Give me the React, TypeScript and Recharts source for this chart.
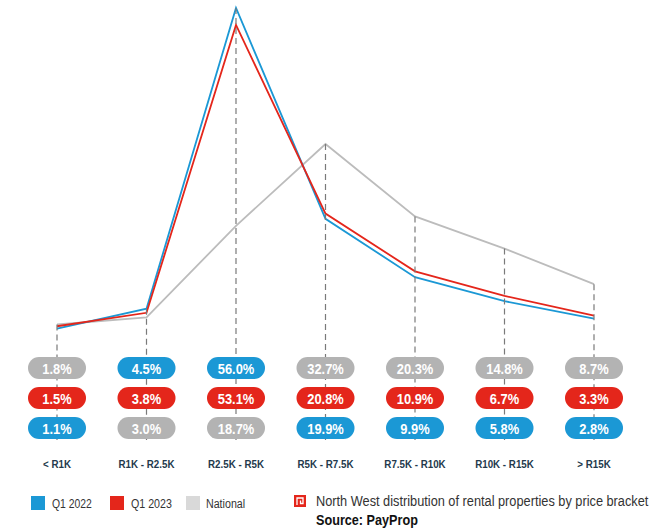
import React from "react";
import { LineChart, Line, XAxis, YAxis } from "recharts";

const categories = ["< R1K", "R1K - R2.5K", "R2.5K - R5K", "R5K - R7.5K", "R7.5K - R10K", "R10K - R15K", "> R15K"];
const q12022 = [1.1, 4.5, 56.0, 19.9, 9.9, 5.8, 2.8];
const q12023 = [1.5, 3.8, 53.1, 20.8, 10.9, 6.7, 3.3];
const national = [1.8, 3.0, 18.7, 32.7, 20.3, 14.8, 8.7];

const BLUE = "#1b98d5";
const RED = "#e4261b";
const GRAY_LINE = "#bcbcbc";
const GRAY_PILL = "#b3b3b3";
const FONT = "'Liberation Sans', Arial, sans-serif";

const data = categories.map((c, i) => ({
  name: c,
  q22: q12022[i],
  q23: q12023[i],
  nat: national[i],
  top: Math.max(q12022[i], q12023[i], national[i]),
}));

const seriesArr: Record<string, number[]> = { q22: q12022, q23: q12023, nat: national };

// condensed look: squeeze the text horizontally
function NarrowText({ x, y, sx, anchor = "middle", children, ...rest }: any) {
  return (
    <text transform={`translate(${x},${y}) scale(${sx},1)`} x={0} y={0} textAnchor={anchor} fontFamily={FONT} {...rest}>
      {children}
    </text>
  );
}

function pillRenderer(key: string, color: string) {
  return (props: any) => {
    const values = seriesArr[key];
    let idx = props.index;
    if (idx === undefined) idx = values.indexOf(props.value);
    const col = [q12022[idx], q12023[idx], national[idx]];
    const mine = values[idx];
    const sorted = [...col].sort((a, b) => b - a);
    const row = sorted.indexOf(mine);
    const cy = 368 + row * 30;
    const w = 58;
    const h = 22;
    return (
      <g key={`pill-${key}-${idx}`}>
        <rect x={props.x - w / 2} y={cy - h / 2} width={w} height={h} rx={11} ry={11} fill={color} />
        <NarrowText x={props.x} y={cy + 5.5} sx={0.86} fill="#fff" fontWeight="bold" fontSize={15}>
          {mine.toFixed(1)}%
        </NarrowText>
      </g>
    );
  };
}

const dropLine = (props: any) => (
  <line
    key={`drop-${props.index}-${props.x}`}
    x1={props.x}
    x2={props.x}
    y1={props.y}
    y2={440}
    stroke="#7a7a7a"
    strokeWidth={1.2}
    strokeDasharray="6 4"
  />
);

const CategoryTick = (props: any) => (
  <NarrowText x={props.x} y={468} sx={0.85} fill="#23394c" fontWeight="bold" fontSize={11.5}>
    {props.payload.value}
  </NarrowText>
);

const legendItems = [
  { label: "Q1 2022", color: BLUE, left: 31, textLeft: 52, sx: 0.77 },
  { label: "Q1 2023", color: RED, left: 110, textLeft: 131, sx: 0.79 },
  { label: "National", color: "#d9d9d9", left: 186, textLeft: 206, sx: 0.79 },
];

export default function App() {
  return (
    <div style={{ position: "absolute", left: 0, top: 0, width: 671, height: 530, background: "#fff" }}>
      <LineChart width={671} height={530} data={data} margin={{ top: 8, right: 77, left: 57, bottom: 165 }}>
        <XAxis dataKey="name" height={30} axisLine={false} tickLine={false} tick={CategoryTick} interval={0} />
        <YAxis hide domain={[0, 56]} />
        <Line dataKey="top" stroke="none" dot={false} activeDot={false} isAnimationActive={false} label={dropLine} />
        <Line
          dataKey="nat"
          stroke={GRAY_LINE}
          strokeWidth={1.8}
          type="linear"
          dot={false}
          activeDot={false}
          isAnimationActive={false}
          label={pillRenderer("nat", GRAY_PILL)}
        />
        <Line
          dataKey="q22"
          stroke={BLUE}
          strokeWidth={1.8}
          type="linear"
          dot={false}
          activeDot={false}
          isAnimationActive={false}
          label={pillRenderer("q22", BLUE)}
        />
        <Line
          dataKey="q23"
          stroke={RED}
          strokeWidth={1.8}
          type="linear"
          dot={false}
          activeDot={false}
          isAnimationActive={false}
          label={pillRenderer("q23", RED)}
        />
      </LineChart>
      <svg style={{ position: "absolute", left: 0, top: 480 }} width={671} height={50}>
        {legendItems.map((it) => (
          <g key={it.label}>
            <rect x={it.left} y={16} width={14} height={14} fill={it.color} />
            <NarrowText x={it.textLeft} y={27.5} sx={it.sx} anchor="start" fontSize={13.5} fill="#333">
              {it.label}
            </NarrowText>
          </g>
        ))}
        <rect x={294} y={15} width={12} height={12} fill={RED} />
        <path d="M297 25 V18 H303 V23.5 H300.5 V20.5" fill="none" stroke="#fff" strokeWidth={1.3} />
        <NarrowText x={316} y={26.3} sx={0.824} anchor="start" fontSize={15.5} fill="#333">
          North West distribution of rental properties by price bracket
        </NarrowText>
        <NarrowText x={316} y={44.7} sx={0.844} anchor="start" fontSize={15} fontWeight="bold" fill="#111">
          Source: PayProp
        </NarrowText>
      </svg>
    </div>
  );
}
